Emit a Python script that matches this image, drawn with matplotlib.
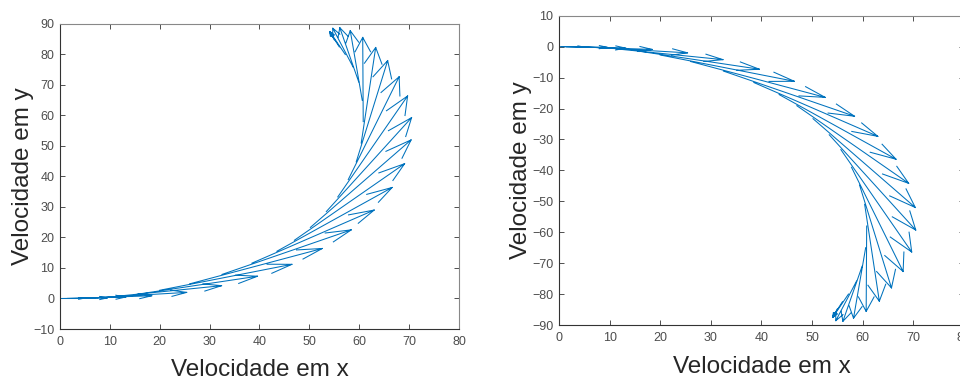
import numpy as np
import matplotlib.pyplot as plt

plt.rcParams['font.family'] = ['Liberation Sans', 'DejaVu Sans']

# origem das setas (velocidade)
vx = [0.0, 0.5, 1.5, 4.0, 7.5, 11.5, 15.5, 20.0, 26.0, 32.5, 38.5, 43.5, 47.0, 50.2,
      53.4, 55.7, 57.8, 59.4, 60.4, 60.8, 60.6, 59.9, 58.8, 57.2, 56.0, 55.0, 54.5, 54.3]
vy = [0.0, 0.0, 0.02, 0.1, 0.3, 0.75, 1.4, 2.7, 4.8, 7.9, 11.6, 15.5, 19.1, 23.3,
      28.5, 33.3, 39.0, 44.8, 51.0, 58.0, 65.0, 71.0, 75.8, 80.0, 82.5, 84.8, 86.0, 86.8]

# componentes das setas
ux = [4.5, 9.0, 11.7, 14.4, 17.9, 20.9, 24.1, 26.5, 26.6, 25.9, 24.5, 23.1, 22.1, 20.2,
      17.1, 14.0, 10.2, 6.3, 2.9, -0.1, -2.4, -3.8, -4.1, -3.1, -1.7, -0.8, -0.3, -0.1]
uy = [0.0, 0.2, 0.48, 0.8, 1.7, 3.45, 5.9, 8.5, 11.6, 14.6, 17.4, 20.9, 25.1, 28.7,
      30.8, 33.1, 33.7, 33.2, 31.3, 27.6, 22.8, 17.8, 12.8, 7.5, 4.3, 2.4, 1.3, 0.6]

x_ticks = list(range(0, 81, 10))
y_ticks_esq = list(range(-10, 91, 10))
y_ticks_dir = list(range(-90, 11, 10))

cor = '#0072BD'


def setas(ax, x, y, u, v, alpha=0.17, beta=0.33):
    # setas no estilo do quiver do MATLAB
    x, y, u, v = map(np.asarray, (x, y, u, v))
    tx, ty = x + u, y + v
    h1x = tx - alpha * (u + beta * v)
    h1y = ty - alpha * (v - beta * u)
    h2x = tx - alpha * (u - beta * v)
    h2y = ty - alpha * (v + beta * u)
    xs, ys = [], []
    for i in range(len(x)):
        xs += [x[i], tx[i], np.nan, h1x[i], tx[i], h2x[i], np.nan]
        ys += [y[i], ty[i], np.nan, h1y[i], ty[i], h2y[i], np.nan]
    ax.plot(xs, ys, color=cor, lw=0.75)


def estilo(ax, yticks):
    ax.set_xlim(0, 80)
    ax.set_ylim(yticks[0], yticks[-1])
    ax.set_xticks(x_ticks)
    ax.set_yticks(yticks)
    ax.tick_params(direction='in', top=True, right=True, length=3.5, width=0.6,
                   labelsize=9, labelcolor='#4d4d4d', color='#333333')
    ax.tick_params(axis='x', pad=5)
    ax.tick_params(axis='y', pad=4)
    for s in ['left', 'bottom']:
        ax.spines[s].set_color('#333333')
    for s in ['top', 'right']:
        ax.spines[s].set_color('#888888')
    for s in ax.spines.values():
        s.set_linewidth(0.8)
    ax.set_xlabel('Velocidade em x', fontsize=17.5, color='#262626')
    ax.set_ylabel('Velocidade em y', fontsize=17.5, color='#262626')


fig = plt.figure(figsize=(9.6, 3.76), dpi=100)

ax1 = fig.add_axes([0.0625, 0.125, 0.4156, 0.8112])
setas(ax1, vx, vy, ux, uy)
estilo(ax1, y_ticks_esq)
ax1.xaxis.set_label_coords(0.5, -0.098)
ax1.yaxis.set_label_coords(-0.066, 0.5)

# segundo grafico: mesmo movimento com vy invertido
ax2 = fig.add_axes([0.5823, 0.1356, 0.4217, 0.8226])
setas(ax2, vx, -np.asarray(vy), ux, -np.asarray(uy))
estilo(ax2, y_ticks_dir)
ax2.xaxis.set_label_coords(0.5, -0.1)
ax2.yaxis.set_label_coords(-0.0667, 0.5)

fig.savefig('out.png', dpi=100)
